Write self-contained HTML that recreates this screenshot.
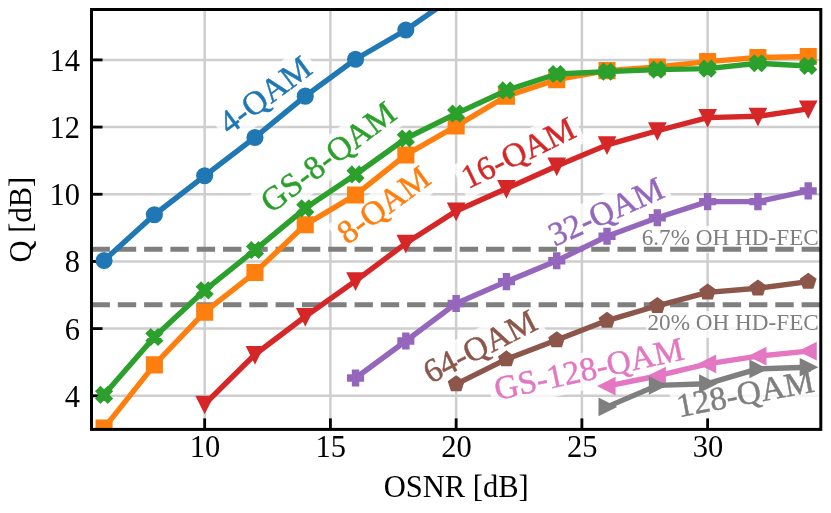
<!DOCTYPE html><html><head><meta charset="utf-8"><style>html,body{margin:0;padding:0;background:#fff}body{width:831px;height:513px;overflow:hidden}</style></head><body><svg width="831" height="513" viewBox="0 0 831 513" style="display:block;will-change:transform">
<rect width="831" height="513" fill="#fff"/>
<defs><clipPath id="ax"><rect x="91.50" y="9.50" width="729.30" height="419.90"/></clipPath></defs>
<g stroke="#cecece" stroke-width="2.5"><line x1="204.67" y1="9.50" x2="204.67" y2="429.40"/><line x1="330.41" y1="9.50" x2="330.41" y2="429.40"/><line x1="456.15" y1="9.50" x2="456.15" y2="429.40"/><line x1="581.89" y1="9.50" x2="581.89" y2="429.40"/><line x1="707.63" y1="9.50" x2="707.63" y2="429.40"/><line x1="91.50" y1="395.81" x2="820.80" y2="395.81"/><line x1="91.50" y1="328.62" x2="820.80" y2="328.62"/><line x1="91.50" y1="261.44" x2="820.80" y2="261.44"/><line x1="91.50" y1="194.26" x2="820.80" y2="194.26"/><line x1="91.50" y1="127.07" x2="820.80" y2="127.07"/><line x1="91.50" y1="59.89" x2="820.80" y2="59.89"/></g>
<g transform="translate(271.7 103.8) rotate(-36.8)"><rect x="-57.9" y="-28.3" width="115.7" height="37.3" fill="#fff" fill-opacity="0.78"/></g>
<g transform="translate(334.9 165.7) rotate(-37.2)"><rect x="-84.8" y="-28.3" width="169.6" height="37.3" fill="#fff" fill-opacity="0.78"/></g>
<g transform="translate(390.1 213.9) rotate(-36.5)"><rect x="-57.9" y="-28.3" width="115.7" height="37.3" fill="#fff" fill-opacity="0.78"/></g>
<g transform="translate(523.0 162.6) rotate(-25.8)"><rect x="-66.0" y="-28.3" width="132.1" height="37.3" fill="#fff" fill-opacity="0.78"/></g>
<g transform="translate(610.6 221.6) rotate(-24.3)"><rect x="-66.2" y="-28.3" width="132.4" height="37.3" fill="#fff" fill-opacity="0.78"/></g>
<g transform="translate(485.0 356.3) rotate(-27.0)"><rect x="-66.2" y="-28.3" width="132.4" height="37.3" fill="#fff" fill-opacity="0.78"/></g>
<g transform="translate(591.2 379.7) rotate(-12.3)"><rect x="-101.5" y="-28.3" width="203.0" height="37.3" fill="#fff" fill-opacity="0.78"/></g>
<g transform="translate(747.3 404.3) rotate(-10.7)"><rect x="-74.6" y="-28.3" width="149.1" height="37.3" fill="#fff" fill-opacity="0.78"/></g>
<g transform="translate(271.7 103.8) rotate(-36.8)"><text x="0" y="0" text-anchor="middle" font-family="'Liberation Serif', serif" font-size="33.4" fill="#1f77b4" stroke="#1f77b4" stroke-width="0.45">4-QAM</text></g>
<g transform="translate(334.9 165.7) rotate(-37.2)"><text x="0" y="0" text-anchor="middle" font-family="'Liberation Serif', serif" font-size="33.4" fill="#2ca02c" stroke="#2ca02c" stroke-width="0.45">GS-8-QAM</text></g>
<g transform="translate(390.1 213.9) rotate(-36.5)"><text x="0" y="0" text-anchor="middle" font-family="'Liberation Serif', serif" font-size="33.4" fill="#ff7f0e" stroke="#ff7f0e" stroke-width="0.45">8-QAM</text></g>
<g transform="translate(523.0 162.6) rotate(-25.8)"><text x="0" y="0" text-anchor="middle" font-family="'Liberation Serif', serif" font-size="33.3" fill="#d62728" stroke="#d62728" stroke-width="0.45">16-QAM</text></g>
<g transform="translate(610.6 221.6) rotate(-24.3)"><text x="0" y="0" text-anchor="middle" font-family="'Liberation Serif', serif" font-size="33.4" fill="#9467bd" stroke="#9467bd" stroke-width="0.45">32-QAM</text></g>
<g transform="translate(485.0 356.3) rotate(-27.0)"><text x="0" y="0" text-anchor="middle" font-family="'Liberation Serif', serif" font-size="33.4" fill="#8c564b" stroke="#8c564b" stroke-width="0.45">64-QAM</text></g>
<g transform="translate(591.2 379.7) rotate(-12.3)"><text x="0" y="0" text-anchor="middle" font-family="'Liberation Serif', serif" font-size="33.4" fill="#e377c2" stroke="#e377c2" stroke-width="0.45">GS-128-QAM</text></g>
<g transform="translate(747.3 404.3) rotate(-10.7)"><text x="0" y="0" text-anchor="middle" font-family="'Liberation Serif', serif" font-size="33.4" fill="#7f7f7f" stroke="#7f7f7f" stroke-width="0.45">128-QAM</text></g>
<rect x="640.1" y="225.9" width="181.7" height="27.0" fill="#fff" fill-opacity="0.78"/>
<text x="818.8" y="244.9" text-anchor="end" font-family="'Liberation Serif', serif" font-size="23.2" fill="#7f7f7f">6.7% OH HD-FEC</text>
<rect x="645.9" y="311.0" width="175.9" height="27.0" fill="#fff" fill-opacity="0.78"/>
<text x="818.8" y="330.0" text-anchor="end" font-family="'Liberation Serif', serif" font-size="23.2" fill="#7f7f7f">20% OH HD-FEC</text>
<g stroke="#000" stroke-width="2.8"><line x1="204.67" y1="429.40" x2="204.67" y2="418.40"/><line x1="330.41" y1="429.40" x2="330.41" y2="418.40"/><line x1="456.15" y1="429.40" x2="456.15" y2="418.40"/><line x1="581.89" y1="429.40" x2="581.89" y2="418.40"/><line x1="707.63" y1="429.40" x2="707.63" y2="418.40"/><line x1="91.50" y1="395.81" x2="102.50" y2="395.81"/><line x1="91.50" y1="328.62" x2="102.50" y2="328.62"/><line x1="91.50" y1="261.44" x2="102.50" y2="261.44"/><line x1="91.50" y1="194.26" x2="102.50" y2="194.26"/><line x1="91.50" y1="127.07" x2="102.50" y2="127.07"/><line x1="91.50" y1="59.89" x2="102.50" y2="59.89"/></g>
<g clip-path="url(#ax)">
<line x1="91.50" y1="249.35" x2="820.80" y2="249.35" stroke="#7f7f7f" stroke-width="5" stroke-dasharray="18.4 7.9"/>
<line x1="91.50" y1="304.77" x2="820.80" y2="304.77" stroke="#7f7f7f" stroke-width="5" stroke-dasharray="18.4 7.9"/>
<polyline points="104.07,260.43 154.37,214.75 204.67,175.78 254.96,137.49 305.26,96.17 355.56,59.22 405.85,29.99 456.15,-4.94" fill="none" stroke="#1f77b4" stroke-width="5.40" stroke-linejoin="round" stroke-linecap="butt"/>
<circle cx="104.07" cy="260.43" r="8.55" fill="#1f77b4"/>
<circle cx="154.37" cy="214.75" r="8.55" fill="#1f77b4"/>
<circle cx="204.67" cy="175.78" r="8.55" fill="#1f77b4"/>
<circle cx="254.96" cy="137.49" r="8.55" fill="#1f77b4"/>
<circle cx="305.26" cy="96.17" r="8.55" fill="#1f77b4"/>
<circle cx="355.56" cy="59.22" r="8.55" fill="#1f77b4"/>
<circle cx="405.85" cy="29.99" r="8.55" fill="#1f77b4"/>
<circle cx="456.15" cy="-4.94" r="8.55" fill="#1f77b4"/>
<polyline points="104.07,428.06 154.37,364.90 204.67,312.16 254.96,272.53 305.26,224.82 355.56,194.93 405.85,154.95 456.15,126.06 506.45,96.17 556.74,79.71 607.04,70.64 657.34,66.94 707.63,61.57 757.93,57.54 808.23,56.53" fill="none" stroke="#ff7f0e" stroke-width="5.40" stroke-linejoin="round" stroke-linecap="butt"/>
<polygon points="96.82,435.31 111.32,435.31 111.32,420.81 96.82,420.81" fill="#ff7f0e" stroke="#ff7f0e" stroke-width="2.60" stroke-linejoin="miter"/>
<polygon points="147.12,372.15 161.62,372.15 161.62,357.65 147.12,357.65" fill="#ff7f0e" stroke="#ff7f0e" stroke-width="2.60" stroke-linejoin="miter"/>
<polygon points="197.42,319.41 211.92,319.41 211.92,304.91 197.42,304.91" fill="#ff7f0e" stroke="#ff7f0e" stroke-width="2.60" stroke-linejoin="miter"/>
<polygon points="247.71,279.78 262.21,279.78 262.21,265.28 247.71,265.28" fill="#ff7f0e" stroke="#ff7f0e" stroke-width="2.60" stroke-linejoin="miter"/>
<polygon points="298.01,232.07 312.51,232.07 312.51,217.57 298.01,217.57" fill="#ff7f0e" stroke="#ff7f0e" stroke-width="2.60" stroke-linejoin="miter"/>
<polygon points="348.31,202.18 362.81,202.18 362.81,187.68 348.31,187.68" fill="#ff7f0e" stroke="#ff7f0e" stroke-width="2.60" stroke-linejoin="miter"/>
<polygon points="398.60,162.20 413.10,162.20 413.10,147.70 398.60,147.70" fill="#ff7f0e" stroke="#ff7f0e" stroke-width="2.60" stroke-linejoin="miter"/>
<polygon points="448.90,133.31 463.40,133.31 463.40,118.81 448.90,118.81" fill="#ff7f0e" stroke="#ff7f0e" stroke-width="2.60" stroke-linejoin="miter"/>
<polygon points="499.20,103.42 513.70,103.42 513.70,88.92 499.20,88.92" fill="#ff7f0e" stroke="#ff7f0e" stroke-width="2.60" stroke-linejoin="miter"/>
<polygon points="549.49,86.96 563.99,86.96 563.99,72.46 549.49,72.46" fill="#ff7f0e" stroke="#ff7f0e" stroke-width="2.60" stroke-linejoin="miter"/>
<polygon points="599.79,77.89 614.29,77.89 614.29,63.39 599.79,63.39" fill="#ff7f0e" stroke="#ff7f0e" stroke-width="2.60" stroke-linejoin="miter"/>
<polygon points="650.09,74.19 664.59,74.19 664.59,59.69 650.09,59.69" fill="#ff7f0e" stroke="#ff7f0e" stroke-width="2.60" stroke-linejoin="miter"/>
<polygon points="700.38,68.82 714.88,68.82 714.88,54.32 700.38,54.32" fill="#ff7f0e" stroke="#ff7f0e" stroke-width="2.60" stroke-linejoin="miter"/>
<polygon points="750.68,64.79 765.18,64.79 765.18,50.29 750.68,50.29" fill="#ff7f0e" stroke="#ff7f0e" stroke-width="2.60" stroke-linejoin="miter"/>
<polygon points="800.98,63.78 815.48,63.78 815.48,49.28 800.98,49.28" fill="#ff7f0e" stroke="#ff7f0e" stroke-width="2.60" stroke-linejoin="miter"/>
<polyline points="104.07,394.80 154.37,337.02 204.67,290.33 254.96,250.02 305.26,208.36 355.56,174.44 405.85,138.49 456.15,113.64 506.45,90.46 556.74,74.00 607.04,71.65 657.34,69.63 707.63,68.62 757.93,63.25 808.23,65.93" fill="none" stroke="#2ca02c" stroke-width="5.40" stroke-linejoin="round" stroke-linecap="butt"/>
<polygon points="100.45,402.05 104.07,398.43 107.70,402.05 111.32,398.43 107.70,394.80 111.32,391.18 107.70,387.55 104.07,391.18 100.45,387.55 96.82,391.18 100.45,394.80 96.82,398.43" fill="#2ca02c" stroke="#2ca02c" stroke-width="2.60" stroke-linejoin="miter"/>
<polygon points="150.75,344.27 154.37,340.65 158.00,344.27 161.62,340.65 158.00,337.02 161.62,333.40 158.00,329.77 154.37,333.40 150.75,329.77 147.12,333.40 150.75,337.02 147.12,340.65" fill="#2ca02c" stroke="#2ca02c" stroke-width="2.60" stroke-linejoin="miter"/>
<polygon points="201.04,297.58 204.67,293.95 208.29,297.58 211.92,293.95 208.29,290.33 211.92,286.70 208.29,283.08 204.67,286.70 201.04,283.08 197.42,286.70 201.04,290.33 197.42,293.95" fill="#2ca02c" stroke="#2ca02c" stroke-width="2.60" stroke-linejoin="miter"/>
<polygon points="251.34,257.27 254.96,253.64 258.59,257.27 262.21,253.64 258.59,250.02 262.21,246.39 258.59,242.77 254.96,246.39 251.34,242.77 247.71,246.39 251.34,250.02 247.71,253.64" fill="#2ca02c" stroke="#2ca02c" stroke-width="2.60" stroke-linejoin="miter"/>
<polygon points="301.64,215.61 305.26,211.99 308.89,215.61 312.51,211.99 308.89,208.36 312.51,204.74 308.89,201.11 305.26,204.74 301.64,201.11 298.01,204.74 301.64,208.36 298.01,211.99" fill="#2ca02c" stroke="#2ca02c" stroke-width="2.60" stroke-linejoin="miter"/>
<polygon points="351.93,181.69 355.56,178.06 359.18,181.69 362.81,178.06 359.18,174.44 362.81,170.81 359.18,167.19 355.56,170.81 351.93,167.19 348.31,170.81 351.93,174.44 348.31,178.06" fill="#2ca02c" stroke="#2ca02c" stroke-width="2.60" stroke-linejoin="miter"/>
<polygon points="402.23,145.74 405.85,142.12 409.48,145.74 413.10,142.12 409.48,138.49 413.10,134.87 409.48,131.24 405.85,134.87 402.23,131.24 398.60,134.87 402.23,138.49 398.60,142.12" fill="#2ca02c" stroke="#2ca02c" stroke-width="2.60" stroke-linejoin="miter"/>
<polygon points="452.52,120.89 456.15,117.26 459.77,120.89 463.40,117.26 459.77,113.64 463.40,110.01 459.77,106.39 456.15,110.01 452.52,106.39 448.90,110.01 452.52,113.64 448.90,117.26" fill="#2ca02c" stroke="#2ca02c" stroke-width="2.60" stroke-linejoin="miter"/>
<polygon points="502.82,97.71 506.45,94.08 510.07,97.71 513.70,94.08 510.07,90.46 513.70,86.83 510.07,83.21 506.45,86.83 502.82,83.21 499.20,86.83 502.82,90.46 499.20,94.08" fill="#2ca02c" stroke="#2ca02c" stroke-width="2.60" stroke-linejoin="miter"/>
<polygon points="553.12,81.25 556.74,77.62 560.37,81.25 563.99,77.62 560.37,74.00 563.99,70.37 560.37,66.75 556.74,70.37 553.12,66.75 549.49,70.37 553.12,74.00 549.49,77.62" fill="#2ca02c" stroke="#2ca02c" stroke-width="2.60" stroke-linejoin="miter"/>
<polygon points="603.41,78.90 607.04,75.27 610.66,78.90 614.29,75.27 610.66,71.65 614.29,68.02 610.66,64.40 607.04,68.02 603.41,64.40 599.79,68.02 603.41,71.65 599.79,75.27" fill="#2ca02c" stroke="#2ca02c" stroke-width="2.60" stroke-linejoin="miter"/>
<polygon points="653.71,76.88 657.34,73.25 660.96,76.88 664.59,73.25 660.96,69.63 664.59,66.00 660.96,62.38 657.34,66.00 653.71,62.38 650.09,66.00 653.71,69.63 650.09,73.25" fill="#2ca02c" stroke="#2ca02c" stroke-width="2.60" stroke-linejoin="miter"/>
<polygon points="704.01,75.87 707.63,72.25 711.26,75.87 714.88,72.25 711.26,68.62 714.88,65.00 711.26,61.37 707.63,65.00 704.01,61.37 700.38,65.00 704.01,68.62 700.38,72.25" fill="#2ca02c" stroke="#2ca02c" stroke-width="2.60" stroke-linejoin="miter"/>
<polygon points="754.30,70.50 757.93,66.87 761.55,70.50 765.18,66.87 761.55,63.25 765.18,59.62 761.55,56.00 757.93,59.62 754.30,56.00 750.68,59.62 754.30,63.25 750.68,66.87" fill="#2ca02c" stroke="#2ca02c" stroke-width="2.60" stroke-linejoin="miter"/>
<polygon points="804.60,73.18 808.23,69.56 811.85,73.18 815.48,69.56 811.85,65.93 815.48,62.31 811.85,58.68 808.23,62.31 804.60,58.68 800.98,62.31 804.60,65.93 800.98,69.56" fill="#2ca02c" stroke="#2ca02c" stroke-width="2.60" stroke-linejoin="miter"/>
<polyline points="204.67,404.21 254.96,354.49 305.26,316.53 355.56,280.92 405.85,243.30 456.15,211.05 506.45,188.55 556.74,166.04 607.04,144.88 657.34,130.77 707.63,117.67 757.93,116.32 808.23,108.93" fill="none" stroke="#d62728" stroke-width="5.40" stroke-linejoin="round" stroke-linecap="butt"/>
<polygon points="204.67,411.46 197.42,396.96 211.92,396.96" fill="#d62728" stroke="#d62728" stroke-width="2.60" stroke-linejoin="miter"/>
<polygon points="254.96,361.74 247.71,347.24 262.21,347.24" fill="#d62728" stroke="#d62728" stroke-width="2.60" stroke-linejoin="miter"/>
<polygon points="305.26,323.78 298.01,309.28 312.51,309.28" fill="#d62728" stroke="#d62728" stroke-width="2.60" stroke-linejoin="miter"/>
<polygon points="355.56,288.17 348.31,273.67 362.81,273.67" fill="#d62728" stroke="#d62728" stroke-width="2.60" stroke-linejoin="miter"/>
<polygon points="405.85,250.55 398.60,236.05 413.10,236.05" fill="#d62728" stroke="#d62728" stroke-width="2.60" stroke-linejoin="miter"/>
<polygon points="456.15,218.30 448.90,203.80 463.40,203.80" fill="#d62728" stroke="#d62728" stroke-width="2.60" stroke-linejoin="miter"/>
<polygon points="506.45,195.80 499.20,181.30 513.70,181.30" fill="#d62728" stroke="#d62728" stroke-width="2.60" stroke-linejoin="miter"/>
<polygon points="556.74,173.29 549.49,158.79 563.99,158.79" fill="#d62728" stroke="#d62728" stroke-width="2.60" stroke-linejoin="miter"/>
<polygon points="607.04,152.13 599.79,137.63 614.29,137.63" fill="#d62728" stroke="#d62728" stroke-width="2.60" stroke-linejoin="miter"/>
<polygon points="657.34,138.02 650.09,123.52 664.59,123.52" fill="#d62728" stroke="#d62728" stroke-width="2.60" stroke-linejoin="miter"/>
<polygon points="707.63,124.92 700.38,110.42 714.88,110.42" fill="#d62728" stroke="#d62728" stroke-width="2.60" stroke-linejoin="miter"/>
<polygon points="757.93,123.57 750.68,109.07 765.18,109.07" fill="#d62728" stroke="#d62728" stroke-width="2.60" stroke-linejoin="miter"/>
<polygon points="808.23,116.18 800.98,101.68 815.48,101.68" fill="#d62728" stroke="#d62728" stroke-width="2.60" stroke-linejoin="miter"/>
<polyline points="355.56,378.00 405.85,341.05 456.15,303.43 506.45,281.60 556.74,260.77 607.04,236.25 657.34,217.77 707.63,201.65 757.93,201.65 808.23,190.90" fill="none" stroke="#9467bd" stroke-width="5.40" stroke-linejoin="round" stroke-linecap="butt"/>
<polygon points="353.14,385.25 357.97,385.25 357.97,380.42 362.81,380.42 362.81,375.59 357.97,375.59 357.97,370.75 353.14,370.75 353.14,375.59 348.31,375.59 348.31,380.42 353.14,380.42" fill="#9467bd" stroke="#9467bd" stroke-width="2.60" stroke-linejoin="miter"/>
<polygon points="403.44,348.30 408.27,348.30 408.27,343.47 413.10,343.47 413.10,338.64 408.27,338.64 408.27,333.80 403.44,333.80 403.44,338.64 398.60,338.64 398.60,343.47 403.44,343.47" fill="#9467bd" stroke="#9467bd" stroke-width="2.60" stroke-linejoin="miter"/>
<polygon points="453.73,310.68 458.57,310.68 458.57,305.85 463.40,305.85 463.40,301.01 458.57,301.01 458.57,296.18 453.73,296.18 453.73,301.01 448.90,301.01 448.90,305.85 453.73,305.85" fill="#9467bd" stroke="#9467bd" stroke-width="2.60" stroke-linejoin="miter"/>
<polygon points="504.03,288.85 508.86,288.85 508.86,284.01 513.70,284.01 513.70,279.18 508.86,279.18 508.86,274.35 504.03,274.35 504.03,279.18 499.20,279.18 499.20,284.01 504.03,284.01" fill="#9467bd" stroke="#9467bd" stroke-width="2.60" stroke-linejoin="miter"/>
<polygon points="554.33,268.02 559.16,268.02 559.16,263.18 563.99,263.18 563.99,258.35 559.16,258.35 559.16,253.52 554.33,253.52 554.33,258.35 549.49,258.35 549.49,263.18 554.33,263.18" fill="#9467bd" stroke="#9467bd" stroke-width="2.60" stroke-linejoin="miter"/>
<polygon points="604.62,243.50 609.46,243.50 609.46,238.66 614.29,238.66 614.29,233.83 609.46,233.83 609.46,229.00 604.62,229.00 604.62,233.83 599.79,233.83 599.79,238.66 604.62,238.66" fill="#9467bd" stroke="#9467bd" stroke-width="2.60" stroke-linejoin="miter"/>
<polygon points="654.92,225.02 659.75,225.02 659.75,220.19 664.59,220.19 664.59,215.35 659.75,215.35 659.75,210.52 654.92,210.52 654.92,215.35 650.09,215.35 650.09,220.19 654.92,220.19" fill="#9467bd" stroke="#9467bd" stroke-width="2.60" stroke-linejoin="miter"/>
<polygon points="705.22,208.90 710.05,208.90 710.05,204.06 714.88,204.06 714.88,199.23 710.05,199.23 710.05,194.40 705.22,194.40 705.22,199.23 700.38,199.23 700.38,204.06 705.22,204.06" fill="#9467bd" stroke="#9467bd" stroke-width="2.60" stroke-linejoin="miter"/>
<polygon points="755.51,208.90 760.35,208.90 760.35,204.06 765.18,204.06 765.18,199.23 760.35,199.23 760.35,194.40 755.51,194.40 755.51,199.23 750.68,199.23 750.68,204.06 755.51,204.06" fill="#9467bd" stroke="#9467bd" stroke-width="2.60" stroke-linejoin="miter"/>
<polygon points="805.81,198.15 810.64,198.15 810.64,193.31 815.48,193.31 815.48,188.48 810.64,188.48 810.64,183.65 805.81,183.65 805.81,188.48 800.98,188.48 800.98,193.31 805.81,193.31" fill="#9467bd" stroke="#9467bd" stroke-width="2.60" stroke-linejoin="miter"/>
<polyline points="456.15,384.05 506.45,359.19 556.74,340.05 607.04,320.56 657.34,305.78 707.63,292.34 757.93,288.31 808.23,281.60" fill="none" stroke="#8c564b" stroke-width="5.40" stroke-linejoin="round" stroke-linecap="butt"/>
<polygon points="456.15,376.80 463.05,381.81 460.41,389.92 451.89,389.92 449.25,381.81" fill="#8c564b" stroke="#8c564b" stroke-width="2.60" stroke-linejoin="miter"/>
<polygon points="506.45,351.94 513.34,356.95 510.71,365.06 502.19,365.06 499.55,356.95" fill="#8c564b" stroke="#8c564b" stroke-width="2.60" stroke-linejoin="miter"/>
<polygon points="556.74,332.80 563.64,337.80 561.00,345.91 552.48,345.91 549.85,337.80" fill="#8c564b" stroke="#8c564b" stroke-width="2.60" stroke-linejoin="miter"/>
<polygon points="607.04,313.31 613.93,318.32 611.30,326.43 602.78,326.43 600.14,318.32" fill="#8c564b" stroke="#8c564b" stroke-width="2.60" stroke-linejoin="miter"/>
<polygon points="657.34,298.53 664.23,303.54 661.60,311.65 653.07,311.65 650.44,303.54" fill="#8c564b" stroke="#8c564b" stroke-width="2.60" stroke-linejoin="miter"/>
<polygon points="707.63,285.09 714.53,290.10 711.89,298.21 703.37,298.21 700.74,290.10" fill="#8c564b" stroke="#8c564b" stroke-width="2.60" stroke-linejoin="miter"/>
<polygon points="757.93,281.06 764.82,286.07 762.19,294.18 753.67,294.18 751.03,286.07" fill="#8c564b" stroke="#8c564b" stroke-width="2.60" stroke-linejoin="miter"/>
<polygon points="808.23,274.35 815.12,279.35 812.49,287.46 803.96,287.46 801.33,279.35" fill="#8c564b" stroke="#8c564b" stroke-width="2.60" stroke-linejoin="miter"/>
<polyline points="607.04,386.07 657.34,375.99 707.63,363.90 757.93,356.17 808.23,351.13" fill="none" stroke="#e377c2" stroke-width="5.40" stroke-linejoin="round" stroke-linecap="butt"/>
<polygon points="599.79,386.07 614.29,378.82 614.29,393.32" fill="#e377c2" stroke="#e377c2" stroke-width="2.60" stroke-linejoin="miter"/>
<polygon points="650.09,375.99 664.59,368.74 664.59,383.24" fill="#e377c2" stroke="#e377c2" stroke-width="2.60" stroke-linejoin="miter"/>
<polygon points="700.38,363.90 714.88,356.65 714.88,371.15" fill="#e377c2" stroke="#e377c2" stroke-width="2.60" stroke-linejoin="miter"/>
<polygon points="750.68,356.17 765.18,348.92 765.18,363.42" fill="#e377c2" stroke="#e377c2" stroke-width="2.60" stroke-linejoin="miter"/>
<polygon points="800.98,351.13 815.48,343.88 815.48,358.38" fill="#e377c2" stroke="#e377c2" stroke-width="2.60" stroke-linejoin="miter"/>
<polyline points="607.04,406.89 657.34,385.39 707.63,383.71 757.93,368.93 808.23,367.25" fill="none" stroke="#7f7f7f" stroke-width="5.40" stroke-linejoin="round" stroke-linecap="butt"/>
<polygon points="614.29,406.89 599.79,399.64 599.79,414.14" fill="#7f7f7f" stroke="#7f7f7f" stroke-width="2.60" stroke-linejoin="miter"/>
<polygon points="664.59,385.39 650.09,378.14 650.09,392.64" fill="#7f7f7f" stroke="#7f7f7f" stroke-width="2.60" stroke-linejoin="miter"/>
<polygon points="714.88,383.71 700.38,376.46 700.38,390.96" fill="#7f7f7f" stroke="#7f7f7f" stroke-width="2.60" stroke-linejoin="miter"/>
<polygon points="765.18,368.93 750.68,361.68 750.68,376.18" fill="#7f7f7f" stroke="#7f7f7f" stroke-width="2.60" stroke-linejoin="miter"/>
<polygon points="815.48,367.25 800.98,360.00 800.98,374.50" fill="#7f7f7f" stroke="#7f7f7f" stroke-width="2.60" stroke-linejoin="miter"/>
</g>
<rect x="91.50" y="9.50" width="729.30" height="419.90" fill="none" stroke="#000" stroke-width="3"/>
<text x="204.97" y="457.3" text-anchor="middle" font-family="'Liberation Serif', serif" font-size="30.5" fill="#000">10</text>
<text x="330.71" y="457.3" text-anchor="middle" font-family="'Liberation Serif', serif" font-size="30.5" fill="#000">15</text>
<text x="456.45" y="457.3" text-anchor="middle" font-family="'Liberation Serif', serif" font-size="30.5" fill="#000">20</text>
<text x="582.19" y="457.3" text-anchor="middle" font-family="'Liberation Serif', serif" font-size="30.5" fill="#000">25</text>
<text x="707.93" y="457.3" text-anchor="middle" font-family="'Liberation Serif', serif" font-size="30.5" fill="#000">30</text>
<text x="80" y="406.81" text-anchor="end" font-family="'Liberation Serif', serif" font-size="30.5" fill="#000">4</text>
<text x="80" y="339.62" text-anchor="end" font-family="'Liberation Serif', serif" font-size="30.5" fill="#000">6</text>
<text x="80" y="272.44" text-anchor="end" font-family="'Liberation Serif', serif" font-size="30.5" fill="#000">8</text>
<text x="80" y="205.26" text-anchor="end" font-family="'Liberation Serif', serif" font-size="30.5" fill="#000">10</text>
<text x="80" y="138.07" text-anchor="end" font-family="'Liberation Serif', serif" font-size="30.5" fill="#000">12</text>
<text x="80" y="70.89" text-anchor="end" font-family="'Liberation Serif', serif" font-size="30.5" fill="#000">14</text>
<text x="456.2" y="496.5" text-anchor="middle" font-family="'Liberation Serif', serif" font-size="30.5" fill="#000">OSNR [dB]</text>
<text transform="translate(30.7 219.6) rotate(-90)" text-anchor="middle" font-family="'Liberation Serif', serif" font-size="30.5" fill="#000">Q [dB]</text>
</svg></body></html>
